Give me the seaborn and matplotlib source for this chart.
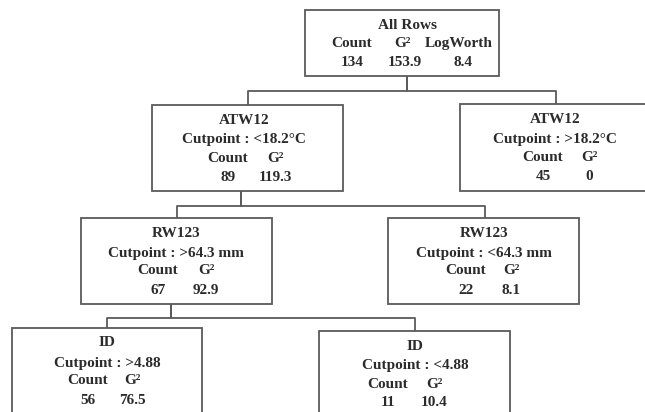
import matplotlib
matplotlib.use("Agg")
import matplotlib.pyplot as plt
from matplotlib.patches import Rectangle
import pandas as pd
import seaborn as sns

# Partition tree summary: split variable, cutpoint, node count and G²
node_titles = ["All Rows", "ATW12", "ATW12", "RW123", "RW123", "ID", "ID"]
cutpoints = [None, "<18.2°C", ">18.2°C", ">64.3 mm", "<64.3 mm", ">4.88", "<4.88"]
counts = [134, 89, 45, 67, 22, 56, 11]
g2_values = [153.9, 119.3, 0, 92.9, 8.1, 76.5, 10.4]
root_logworth = 8.4
parents = [None, 0, 0, 1, 1, 3, 3]

# Box geometry in pixels: left, top, right, bottom
boxes = [
    (305, 10, 499, 76),
    (152, 105, 343, 191),
    (460, 104, 652, 191),
    (81, 218, 272, 304),
    (388, 218, 579, 304),
    (12, 328, 202, 420),
    (319, 331, 510, 420),
]
# x of title/cutpoint line, Count column, G² column
text_x = [
    (407, 352, 403),
    (244, 228, 275),
    (555, 543, 589),
    (176, 158, 206),
    (484, 466, 511),
    (107, 88, 132),
    (415, 388, 434),
]
# connector attachment x: top edge (from parent) and bottom edge (to children)
top_x = [407, 248, 556, 177, 485, 107, 415]
bottom_x = [407, 241, 556, 171, 485, 107, 415]
bar_y = {0: 91, 1: 206, 3: 318}

W, H = 645, 412
sns.set_theme(style="white")
fig = plt.figure(figsize=(W / 100, H / 100), dpi=100)
ax = fig.add_axes([0, 0, 1, 1])

line_col = "#5a5a5a"
text_col = "#2b2b2b"

# connector segments as a tidy frame
rows = []
seg = 0
for child, parent in enumerate(parents):
    if parent is None:
        continue
    py = boxes[parent][3]
    by = bar_y[parent]
    cy = boxes[child][1]
    px = bottom_x[parent]
    cx = top_x[child]
    for x, y in [(px, py), (px, by), (cx, by), (cx, cy)]:
        rows.append({"seg": seg, "x": x, "y": y})
    seg += 1
edges = pd.DataFrame(rows)
sns.lineplot(data=edges, x="x", y="y", units="seg", estimator=None, sort=False,
             color=line_col, linewidth=1.3, ax=ax, legend=False)
ax.set_xlim(0, W)
ax.set_ylim(H, 0)
ax.axis("off")

for (l, t, r, b) in boxes:
    ax.add_patch(Rectangle((l, t), r - l, b - t, fill=True, facecolor="white",
                           edgecolor=line_col, linewidth=1.3, zorder=3))

font = dict(family="Liberation Serif", fontweight="bold", fontsize=11,
            color=text_col, ha="center", va="center", zorder=4)

for i, (l, t, r, b) in enumerate(boxes):
    cx, c1, c2 = text_x[i]
    if cutpoints[i] is None:
        ax.text(cx, t + 15, node_titles[i], **font)
        ax.text(352, t + 33, "Count", **font)
        ax.text(402, t + 33, "G²", **font)
        ax.text(459, t + 33, "LogWorth", **font)
        ax.text(352, t + 52, f"{counts[i]}", **font)
        ax.text(405, t + 52, f"{g2_values[i]:.1f}", **font)
        ax.text(463, t + 52, f"{root_logworth:.1f}", **font)
    else:
        ax.text(cx, t + 15, node_titles[i], **font)
        ax.text(cx, t + 35, f"Cutpoint : {cutpoints[i]}", **font)
        ax.text(c1, t + 53, "Count", **font)
        ax.text(c2, t + 53, "G²", **font)
        g2 = g2_values[i]
        g2_txt = "0" if g2 == 0 else f"{g2:.1f}"
        ax.text(c1, t + 72, f"{counts[i]}", **font)
        ax.text(c2, t + 72, g2_txt, **font)

fig.savefig("out.png", dpi=100)
